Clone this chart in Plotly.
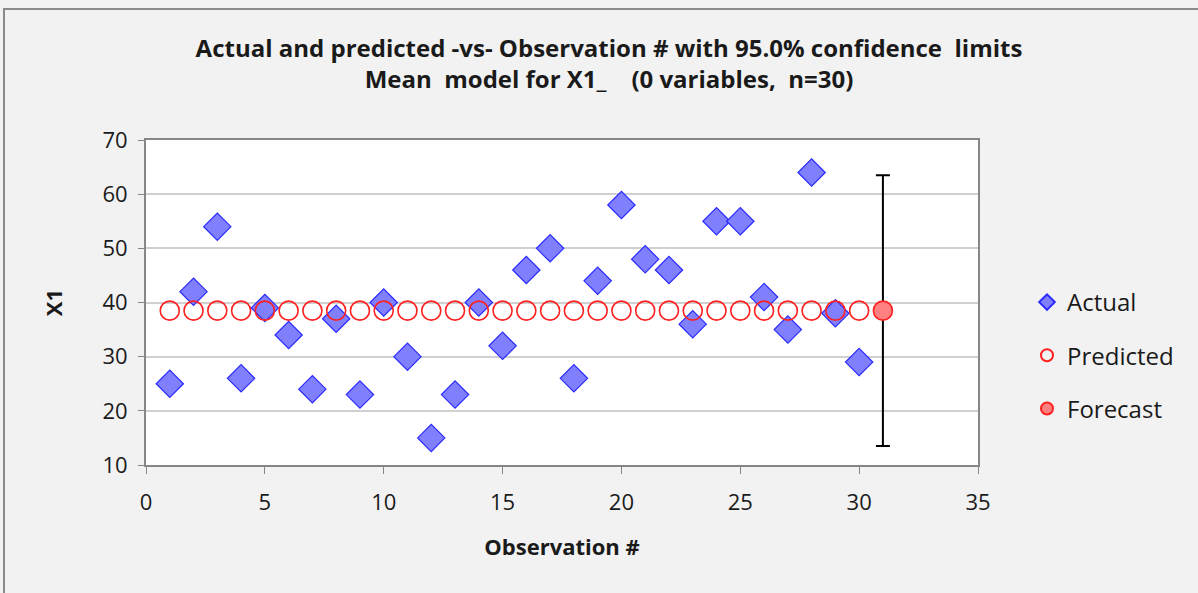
import plotly.graph_objects as go

obs = list(range(1, 31))
actual = [25, 42, 54, 26, 39, 34, 24, 37, 23, 40,
          30, 15, 23, 40, 32, 46, 50, 26, 44, 58,
          48, 46, 36, 55, 55, 41, 35, 64, 38, 29]
predicted = [38.5] * 30
forecast_x = [31]
forecast_y = [38.5]
forecast_err = [25.0]
title_lines = ["Actual and predicted -vs- Observation # with 95.0% confidence  limits",
               "Mean  model for X1_    (0 variables,  n=30)"]

W, H = 1198, 593
L, R, T, B = 146, 220, 140, 128
pw, ph = W - L - R, H - T - B

def px(x):
    return (x - L) / pw

def py(y):
    return (H - B - y) / ph

font = "Open Sans"

fig = go.Figure()
fig.add_trace(go.Scatter(
    x=obs, y=actual, mode="markers", name="Actual", legendgroup="a",
    marker=dict(symbol="diamond", size=21, color="#8080ff",
                line=dict(color="#2a2aff", width=1.2))))
fig.add_trace(go.Scatter(
    x=obs, y=predicted, mode="markers", name="Predicted", legendgroup="p",
    marker=dict(symbol="circle-open", size=19, color="#ff2020",
                line=dict(width=1.6))))
fig.add_trace(go.Scatter(
    x=forecast_x, y=forecast_y, mode="markers", name="Forecast", legendgroup="f",
    marker=dict(symbol="circle", size=19, color="#ff8080",
                line=dict(color="#ff2020", width=1.6)),
    error_y=dict(type="data", array=forecast_err, color="black",
                 thickness=2, width=7)))

fig.update_layout(
    width=W, height=H,
    paper_bgcolor="#f2f2f2", plot_bgcolor="white",
    margin=dict(l=L, r=R, t=T, b=B),
    font=dict(family=font, color="#1a1a1a", size=22),
    title=dict(
        text="<br>".join("<b>" + t + "</b>" for t in title_lines),
        x=609 / W, xanchor="center", y=1 - 57 / H, yanchor="middle",
        font=dict(size=24, family=font)),
    legend=dict(x=px(1027), xanchor="left", y=py(280), yanchor="top",
                tracegroupgap=19, font=dict(size=24, family=font),
                bgcolor="rgba(0,0,0,0)", itemsizing="constant"),
    showlegend=True,
)

fig.update_xaxes(
    range=[0, 35], dtick=5, tick0=0,
    showgrid=False, zeroline=False,
    showline=True, linecolor="#868686", linewidth=2, mirror=True,
    ticks="outside", ticklen=7, tickcolor="#868686", tickwidth=1,
    ticklabelstandoff=10,
    tickfont=dict(size=22, family=font),
    title=dict(text="<b>Observation #</b>", font=dict(size=22, family=font), standoff=24))
fig.update_yaxes(
    range=[10, 70], dtick=10,
    showgrid=True, gridcolor="#d0d0d0", gridwidth=1.5, zeroline=False,
    showline=True, linecolor="#868686", linewidth=2, mirror=True,
    ticks="outside", ticklen=6, tickcolor="#868686", tickwidth=1,
    ticklabelstandoff=6,
    tickfont=dict(size=22, family=font),
    title=dict(text="<b>X1</b>", font=dict(size=22, family=font), standoff=34))

fig.add_shape(type="rect", xref="paper", yref="paper",
              x0=px(4), x1=px(W + 10), y0=py(H + 10), y1=py(9),
              line=dict(color="#8a8a8a", width=2), fillcolor="rgba(0,0,0,0)",
              layer="below")

fig.write_html("out.html", config={"displayModeBar": False},
               post_script="document.body.style.margin='0';document.body.style.padding='0';")
